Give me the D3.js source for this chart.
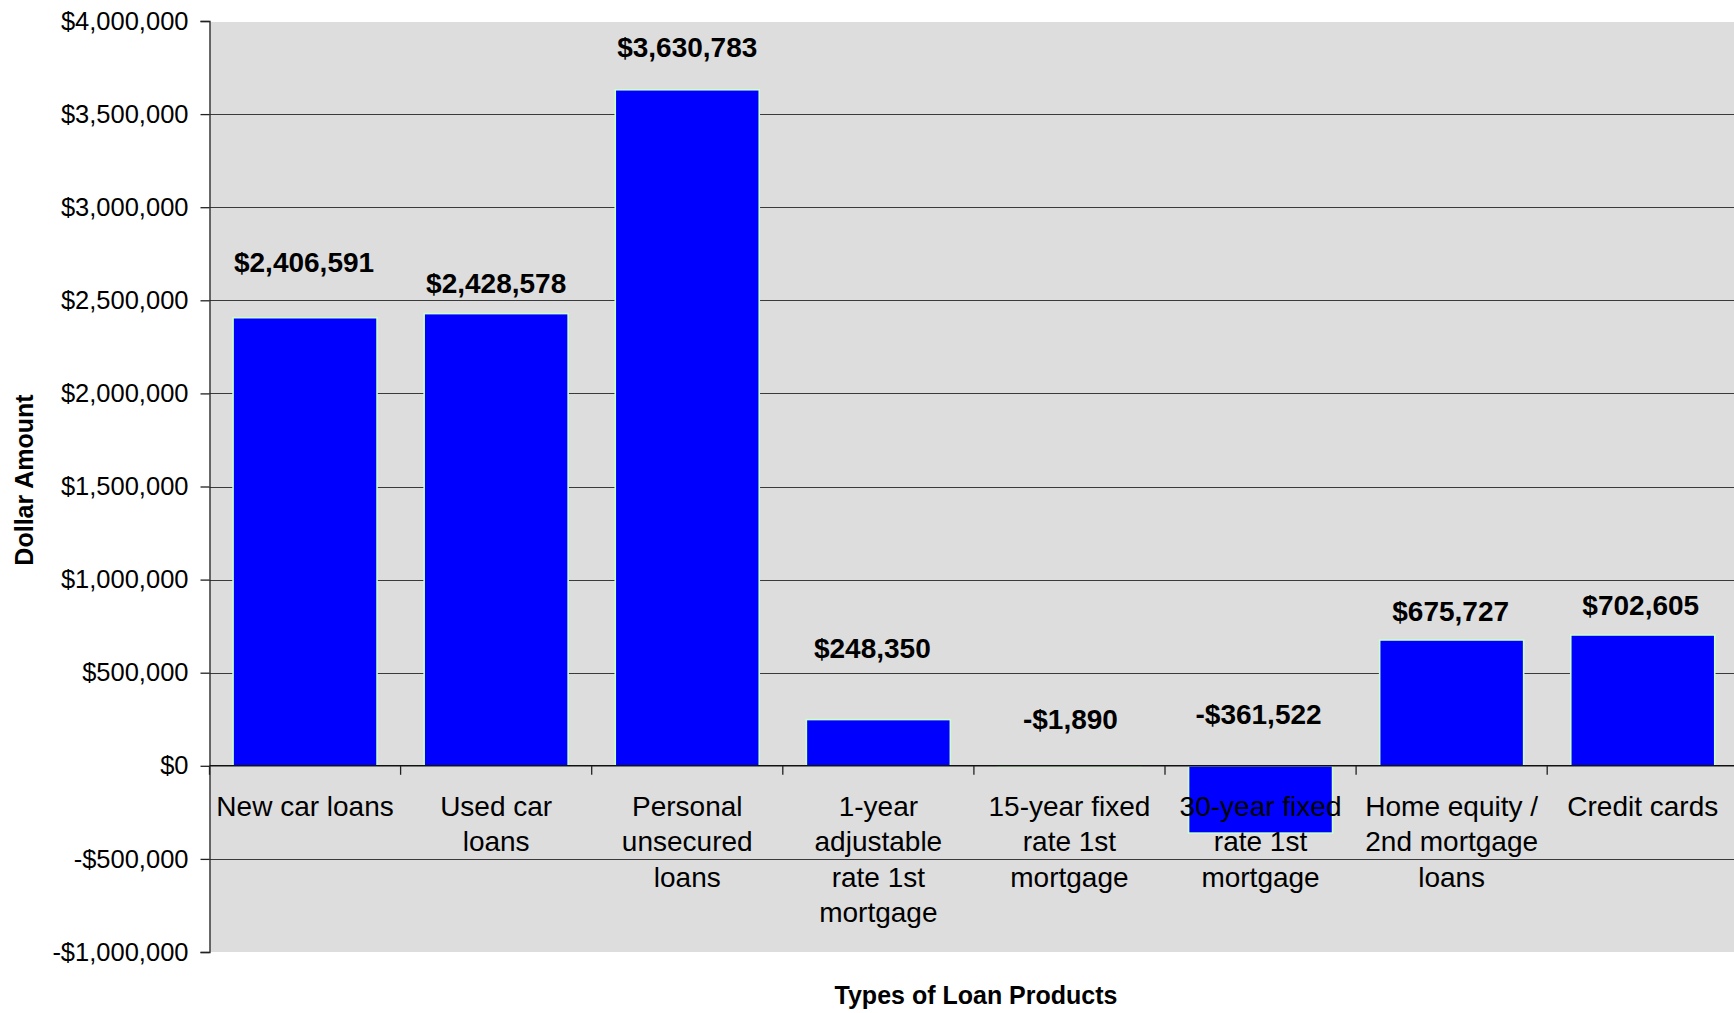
<!DOCTYPE html>
<html>
<head>
<meta charset="utf-8">
<script src="https://cdn.jsdelivr.net/npm/d3@7/dist/d3.min.js"></script>
<style>
  html, body { margin: 0; padding: 0; background: #ffffff; }
  svg { display: block; font-family: "Liberation Sans", Arial, sans-serif; }
</style>
</head>
<body>
<svg id="chart" width="1734" height="1013"></svg>
<script>
// Loan product categories (each entry holds the wrapped label lines)
const categories = [
  ["New car loans"],
  ["Used car", "loans"],
  ["Personal", "unsecured", "loans"],
  ["1-year", "adjustable", "rate 1st", "mortgage"],
  ["15-year fixed", "rate 1st", "mortgage"],
  ["30-year fixed", "rate 1st", "mortgage"],
  ["Home equity /", "2nd mortgage", "loans"],
  ["Credit cards"]
];

// Dollar amount per loan product
const amounts = [2406591, 2428578, 3630783, 248350, -1890, -361522, 675727, 702605];

// Value axis ticks
const yTicks = [-1000000, -500000, 0, 500000, 1000000, 1500000, 2000000, 2500000, 3000000, 3500000, 4000000];

// Hand-placed data label offsets [dx, dy] relative to the bar end
const labelNudge = [[-1, -46], [0, -21], [0, -33], [-6, -62], [1, -37], [-2, -42], [-1, -19], [-2, -20]];

const svg = d3.select("#chart");
const plot = { left: 209.5, right: 1738.3, top: 21, bottom: 952 };

const x = d3.scaleBand()
  .domain(d3.range(categories.length))
  .range([plot.left, plot.right])
  .paddingInner(0.2465)
  .paddingOuter(0.12325);

const y = d3.scaleLinear()
  .domain([-1000000, 4000000])
  .range([plot.bottom, plot.top]);

const money = v => (v < 0 ? "-$" : "$") + d3.format(",")(Math.abs(v));

// Plot background
svg.append("rect")
  .attr("x", plot.left).attr("y", plot.top + 1)
  .attr("width", plot.right - plot.left).attr("height", plot.bottom - plot.top - 1)
  .attr("fill", "#dddddd");

// Horizontal gridlines
svg.append("g")
  .selectAll("line")
  .data(yTicks.filter(t => t !== 0 && t !== 4000000 && t !== -1000000))
  .join("line")
  .attr("x1", plot.left).attr("x2", plot.right)
  .attr("y1", d => Math.round(y(d)) + 0.5).attr("y2", d => Math.round(y(d)) + 0.5)
  .attr("stroke", "#3a3a3a").attr("stroke-width", 1.2);

// Bars
svg.append("g")
  .selectAll("rect")
  .data(amounts)
  .join("rect")
  .attr("x", (d, i) => x(i))
  .attr("width", x.bandwidth())
  .attr("y", d => y(Math.max(d, 0)))
  .attr("height", d => Math.max(Math.abs(y(d) - y(0)), 0.4))
  .attr("fill", "#0000ff")
  .attr("stroke", "#ccffcc")
  .attr("stroke-width", 1.6);

// Value axis
const yAxis = svg.append("g")
  .attr("transform", `translate(${plot.left},0)`)
  .call(d3.axisLeft(y).tickValues(yTicks).tickFormat(money).tickSize(9).tickPadding(12));
yAxis.select(".domain").attr("stroke", "#222").attr("stroke-width", 1.3);
yAxis.selectAll(".tick line").attr("stroke", "#222").attr("stroke-width", 1.3);
yAxis.selectAll(".tick text")
  .attr("font-size", "25.5px")
  .attr("fill", "#000")
  .attr("font-family", "'Liberation Sans', Arial, sans-serif");

// Zero line across the plot
svg.append("line")
  .attr("x1", plot.left).attr("x2", plot.right)
  .attr("y1", y(0)).attr("y2", y(0))
  .attr("stroke", "#111").attr("stroke-width", 1.4);

// Category tick marks at band boundaries
svg.append("g")
  .selectAll("line")
  .data(d3.range(categories.length + 1))
  .join("line")
  .attr("x1", i => plot.left + i * x.step()).attr("x2", i => plot.left + i * x.step())
  .attr("y1", y(0)).attr("y2", y(0) + 9)
  .attr("stroke", "#222").attr("stroke-width", 1.3);

// Category labels (wrapped)
svg.append("g")
  .selectAll("text")
  .data(categories)
  .join("text")
  .attr("text-anchor", "middle")
  .attr("font-size", "28px")
  .attr("fill", "#000")
  .each(function(lines, i) {
    const cx = x(i) + x.bandwidth() / 2;
    d3.select(this).selectAll("tspan")
      .data(lines)
      .join("tspan")
      .attr("x", cx)
      .attr("y", (l, k) => 816 + k * 35.3)
      .text(l => l);
  });

// Data labels
svg.append("g")
  .selectAll("text")
  .data(amounts)
  .join("text")
  .attr("text-anchor", "middle")
  .attr("font-size", "28px")
  .attr("font-weight", "bold")
  .attr("fill", "#000")
  .attr("x", (d, i) => x(i) + x.bandwidth() / 2 + labelNudge[i][0])
  .attr("y", (d, i) => y(Math.max(d, 0)) + labelNudge[i][1])
  .text(money);

// Axis titles
svg.append("text")
  .attr("text-anchor", "middle")
  .attr("font-size", "25px")
  .attr("font-weight", "bold")
  .attr("transform", `translate(33,480) rotate(-90)`)
  .text("Dollar Amount");

svg.append("text")
  .attr("text-anchor", "middle")
  .attr("font-size", "25px")
  .attr("font-weight", "bold")
  .attr("x", 976)
  .attr("y", 1004)
  .text("Types of Loan Products");
</script>
</body>
</html>
